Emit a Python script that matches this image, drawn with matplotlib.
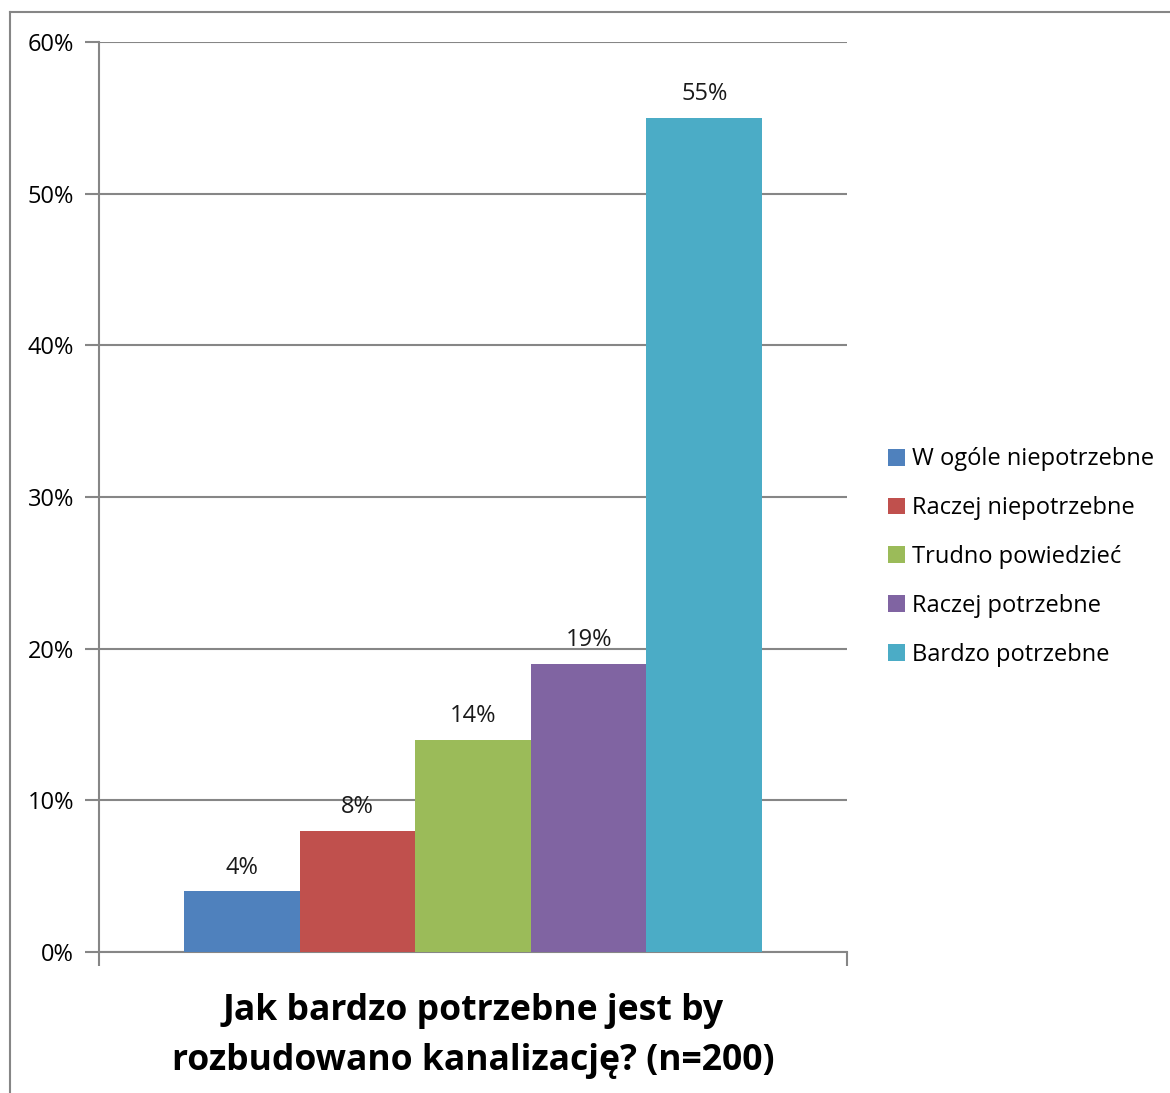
import matplotlib.pyplot as plt
from matplotlib.lines import Line2D
from matplotlib.patches import Patch

categories = [
    "W ogóle niepotrzebne",
    "Raczej niepotrzebne",
    "Trudno powiedzieć",
    "Raczej potrzebne",
    "Bardzo potrzebne",
]
values = [4, 8, 14, 19, 55]
colors = ["#4f81bd", "#c0504d", "#9bbb59", "#8064a2", "#4bacc6"]
yticks = [0, 10, 20, 30, 40, 50, 60]
title = "Jak bardzo potrzebne jest by\nrozbudowano kanalizację? (n=200)"

GRID = "#868686"
FS = 17
plt.rcParams["font.family"] = ["Open Sans", "DejaVu Sans"]

W, H = 1170, 1093
fig = plt.figure(figsize=(W / 100, H / 100), dpi=100)
ax = fig.add_axes([99 / W, 1 - 952 / H, (847 - 99) / W, (952 - 42) / H])

# one category, five series side by side
n = len(values)
bar_w = 0.773 / n
x0 = -bar_w * n / 2
for i, (v, c) in enumerate(zip(values, colors)):
    xc = x0 + bar_w * (i + 0.5)
    ax.bar(xc, v, width=bar_w, color=c, zorder=3)
    ax.text(xc, v + 0.75, f"{v}%", ha="center", va="bottom", fontsize=FS,
            color="#1a1a1a")

ax.set_xlim(-0.5, 0.5)
ax.set_ylim(0, 60)
ax.set_yticks(yticks)
ax.set_yticklabels([f"{t}%" for t in yticks], fontsize=FS)
ax.yaxis.grid(True, color=GRID, linewidth=1.5, zorder=0)
ax.set_xticks([-0.5, 0.5])
ax.set_xticklabels(["", ""])
ax.tick_params(axis="both", length=10, width=1.5, color=GRID, pad=8)
for s in ["top", "right"]:
    ax.spines[s].set_visible(False)
for s in ["left", "bottom"]:
    ax.spines[s].set_color(GRID)
    ax.spines[s].set_linewidth(1.5)

fig.text(473 / W, 1 - 1036 / H, title, ha="center", va="center",
         fontsize=25.6, fontweight="bold", linespacing=1.5)

handles = [Patch(facecolor=c, edgecolor="none") for c in colors]
fig.legend(handles, categories, loc="center left",
           bbox_to_anchor=(867 / W, 1 - 557 / H), frameon=False,
           fontsize=FS, handlelength=0.72, handleheight=0.72,
           handletextpad=0.3, labelspacing=1.05)

# outer chart frame: top and left edges only
fig.add_artist(Line2D([10 / W, 1], [1 - 12 / H, 1 - 12 / H], color=GRID,
                      linewidth=1.5, transform=fig.transFigure))
fig.add_artist(Line2D([10 / W, 10 / W], [0, 1 - 12 / H], color=GRID,
                      linewidth=1.5, transform=fig.transFigure))

fig.savefig("out.png", dpi=100)
